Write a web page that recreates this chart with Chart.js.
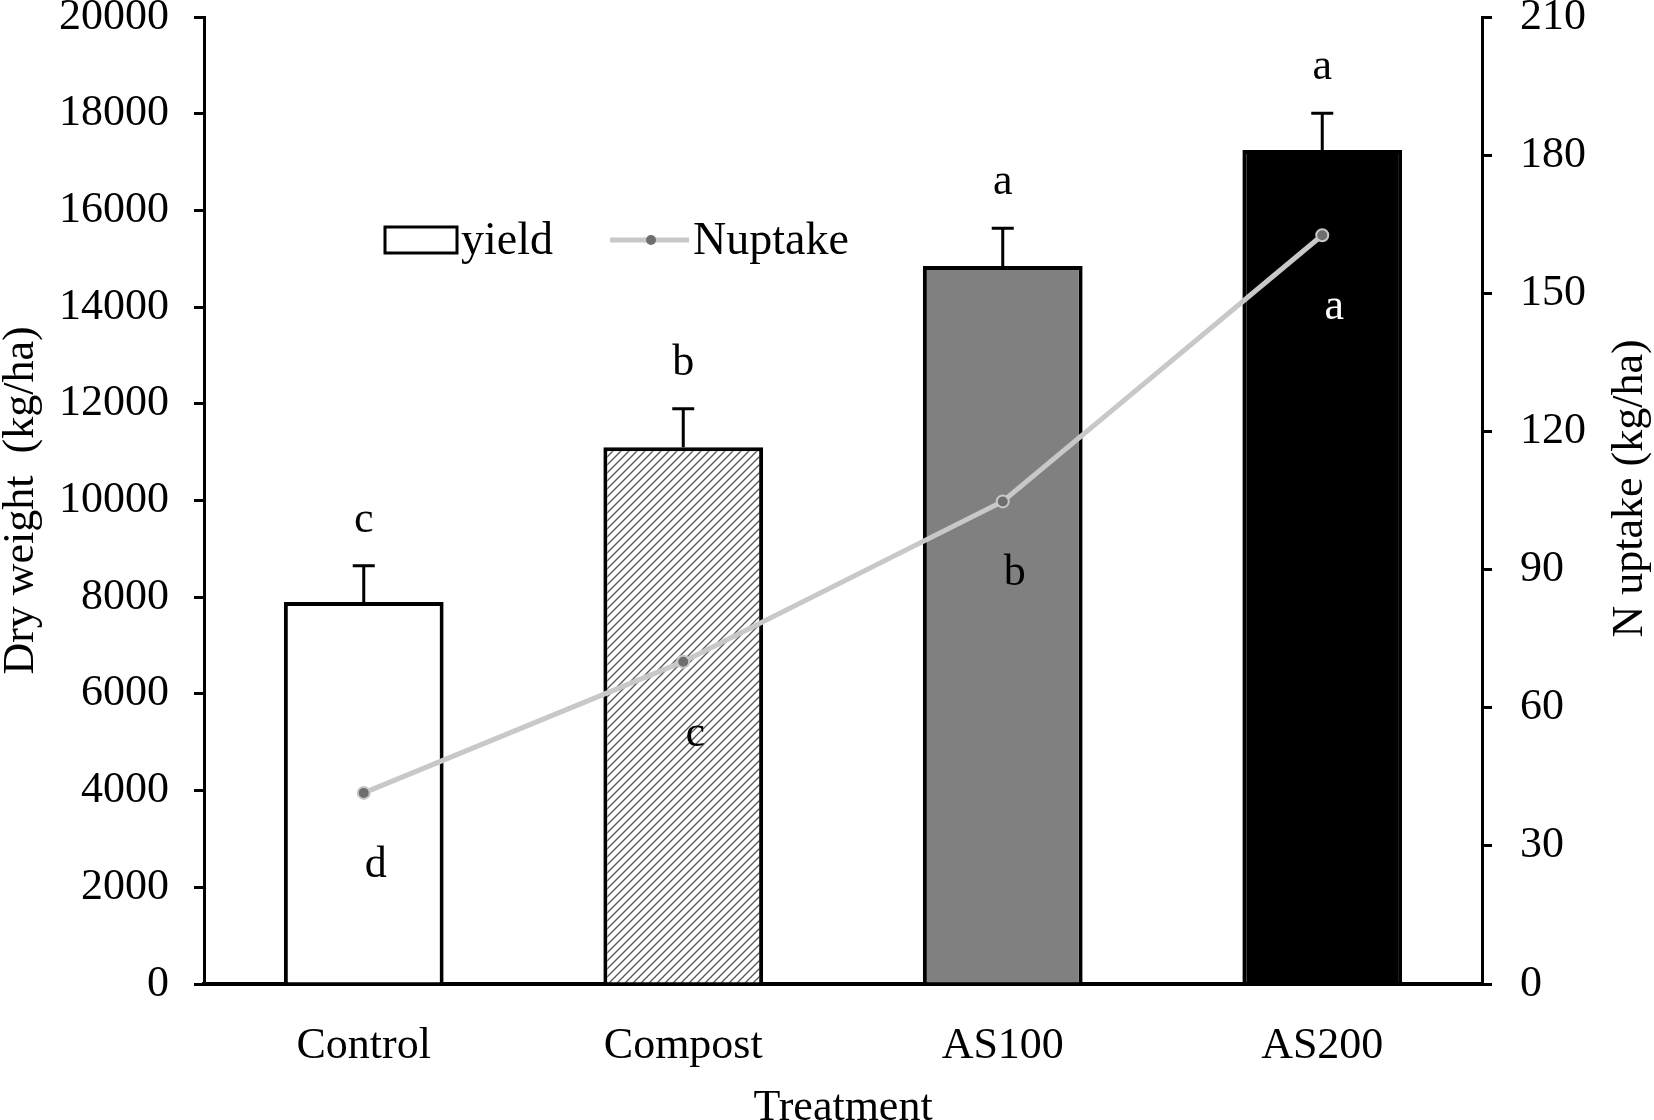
<!DOCTYPE html>
<html>
<head>
<meta charset="utf-8">
<title>Dry weight and N uptake</title>
<script src="https://cdn.jsdelivr.net/npm/chart.js@4.4.1/dist/chart.umd.min.js"></script>
<style>
  html, body { margin: 0; padding: 0; background: #fff; overflow: hidden; }
  #wrap { width: 1654px; height: 1120px; position: relative; }
</style>
</head>
<body>
<div id="wrap"><canvas id="chart"></canvas></div>
<script>
// --- Data ---
const treatments = ['Control', 'Compost', 'AS100', 'AS200'];
const dryWeight = [7900, 11100, 14850, 17250];      // kg/ha, bars
const dryWeightErr = [750, 800, 780, 760];          // upper error bars
const nUptake = [41.5, 70, 104.8, 162.6];           // kg/ha, line
const yieldLetters = ['c', 'b', 'a', 'a'];
const uptakeLetters = ['d', 'c', 'b', 'a'];
const yieldTicks = [0, 20000, 2000];                // min, max, step
const uptakeTicks = [0, 210, 30];

const FONT = "'Liberation Serif', 'Times New Roman', serif";
const LINE_GREY = '#c8c8c8';

// diagonal hatch for the Compost bar
function makeHatch() {
    const c = document.createElement('canvas');
    c.width = 8; c.height = 8;
    const g = c.getContext('2d');
    g.fillStyle = '#fff';
    g.fillRect(0, 0, 8, 8);
    g.strokeStyle = '#555';
    g.lineWidth = 1.3;
    g.beginPath();
    g.moveTo(0, 8); g.lineTo(8, 0);
    g.moveTo(-2, 2); g.lineTo(2, -2);
    g.moveTo(6, 10); g.lineTo(10, 6);
    g.stroke();
    return g.createPattern(c, 'repeat');
}

const barFills = ['#ffffff', makeHatch(), '#808080', '#000000'];

// --- Error bars, letters, legend, right title ---
const extras = {
    id: 'extras',
    afterDatasetsDraw(chart) {
        const ctx = chart.ctx;
        const yL = chart.scales.y;
        const area = chart.chartArea;
        const bars = chart.getDatasetMeta(0).data;
        const pts = chart.getDatasetMeta(1).data;

        ctx.save();
        // error bars (upper only, with cap)
        ctx.strokeStyle = '#000';
        ctx.lineWidth = 3;
        bars.forEach((b, i) => {
            const top = yL.getPixelForValue(dryWeight[i] + dryWeightErr[i]);
            ctx.beginPath();
            ctx.moveTo(b.x, b.y);
            ctx.lineTo(b.x, top);
            ctx.moveTo(b.x - 11, top);
            ctx.lineTo(b.x + 11, top);
            ctx.stroke();
        });

        // significance letters
        ctx.font = '44px ' + FONT;
        ctx.textAlign = 'center';
        ctx.textBaseline = 'alphabetic';
        bars.forEach((b, i) => {
            const top = yL.getPixelForValue(dryWeight[i] + dryWeightErr[i]);
            ctx.fillStyle = '#000';
            ctx.fillText(yieldLetters[i], b.x, top - 34);
        });
        pts.forEach((p, i) => {
            ctx.fillStyle = barFills[i] === '#000000' ? '#fff' : '#000';
            ctx.fillText(uptakeLetters[i], p.x + 12, p.y + 84);
        });

        // legend
        const lx = area.left + 181, ly = area.top + 223;
        ctx.lineWidth = 3;
        ctx.strokeStyle = '#000';
        ctx.fillStyle = '#fff';
        ctx.fillRect(lx, ly - 13, 72, 26);
        ctx.strokeRect(lx, ly - 13, 72, 26);
        ctx.fillStyle = '#000';
        ctx.font = '46px ' + FONT;
        ctx.textAlign = 'left';
        ctx.textBaseline = 'middle';
        ctx.fillText(chart.data.datasets[0].label, lx + 76, ly + 2);

        const sx = lx + 225;
        ctx.strokeStyle = LINE_GREY;
        ctx.lineWidth = 5;
        ctx.beginPath();
        ctx.moveTo(sx, ly);
        ctx.lineTo(sx + 79, ly);
        ctx.stroke();
        ctx.beginPath();
        ctx.arc(sx + 41, ly, 5, 0, Math.PI * 2);
        ctx.fillStyle = '#6e6e6e';
        ctx.fill();
        ctx.fillStyle = '#000';
        ctx.fillText(chart.data.datasets[1].label, sx + 83, ly + 2);

        // right axis title, reading bottom to top
        ctx.translate(chart.width - 24, (area.top + area.bottom) / 2 - 12);
        ctx.rotate(-Math.PI / 2);
        ctx.textAlign = 'center';
        ctx.font = '44px ' + FONT;
        ctx.fillText('N uptake (kg/ha)', 0, 0);
        ctx.restore();
    }
};

function fixBox(w, h) {
    return function(scale) {
        if (w !== null) scale.width = w;
        if (h !== null) scale.height = h;
        scale.paddingTop = 0;
        scale.paddingBottom = 0;
        scale.paddingLeft = 0;
        scale.paddingRight = 0;
    };
}

const tickFont = { family: FONT, size: 44 };

new Chart(document.getElementById('chart'), {
    data: {
        labels: treatments,
        datasets: [
            {
                type: 'bar',
                label: 'yield',
                data: dryWeight,
                yAxisID: 'y',
                order: 1,
                backgroundColor: barFills,
                borderColor: '#000',
                borderWidth: 4,
                categoryPercentage: 1,
                barPercentage: 0.5
            },
            {
                type: 'line',
                label: 'Nuptake',
                data: nUptake,
                yAxisID: 'y2',
                order: 0,
                borderColor: LINE_GREY,
                borderWidth: 5,
                tension: 0,
                pointRadius: 6,
                pointBorderWidth: 2,
                pointBackgroundColor: '#6e6e6e',
                pointBorderColor: LINE_GREY
            }
        ]
    },
    options: {
        responsive: true,
        maintainAspectRatio: false,
        animation: false,
        layout: { padding: { top: 17, left: 0, right: 0, bottom: 0 } },
        plugins: {
            legend: { display: false },
            tooltip: { enabled: false }
        },
        scales: {
            x: {
                offset: true,
                z: 1,
                grid: { display: false },
                border: { display: true, color: '#000', width: 4 },
                ticks: { color: '#000', font: tickFont, padding: 28, maxRotation: 0 },
                title: {
                    display: true,
                    text: 'Treatment',
                    color: '#000',
                    font: { family: FONT, size: 44 },
                    padding: { top: 0, bottom: -15 }
                },
                afterFit: fixBox(null, 136)
            },
            y: {
                position: 'left',
                min: yieldTicks[0],
                max: yieldTicks[1],
                z: 1,
                grid: { drawOnChartArea: false, color: '#000', lineWidth: 3, tickLength: 10 },
                border: { display: true, color: '#000', width: 3 },
                ticks: { stepSize: yieldTicks[2], color: '#000', font: tickFont, padding: 25, callback: v => String(v) },
                title: {
                    display: true,
                    text: 'Dry weight  (kg/ha)',
                    color: '#000',
                    font: { family: FONT, size: 44 },
                    padding: { top: -5, bottom: 0 }
                },
                afterFit: fixBox(204, null)
            },
            y2: {
                position: 'right',
                min: uptakeTicks[0],
                max: uptakeTicks[1],
                z: 1,
                grid: { drawOnChartArea: false, color: '#000', lineWidth: 3, tickLength: 10 },
                border: { display: true, color: '#000', width: 3 },
                ticks: { stepSize: uptakeTicks[2], color: '#000', font: tickFont, padding: 28 },
                afterFit: fixBox(172, null)
            }
        }
    },
    plugins: [extras]
});
</script>
</body>
</html>
